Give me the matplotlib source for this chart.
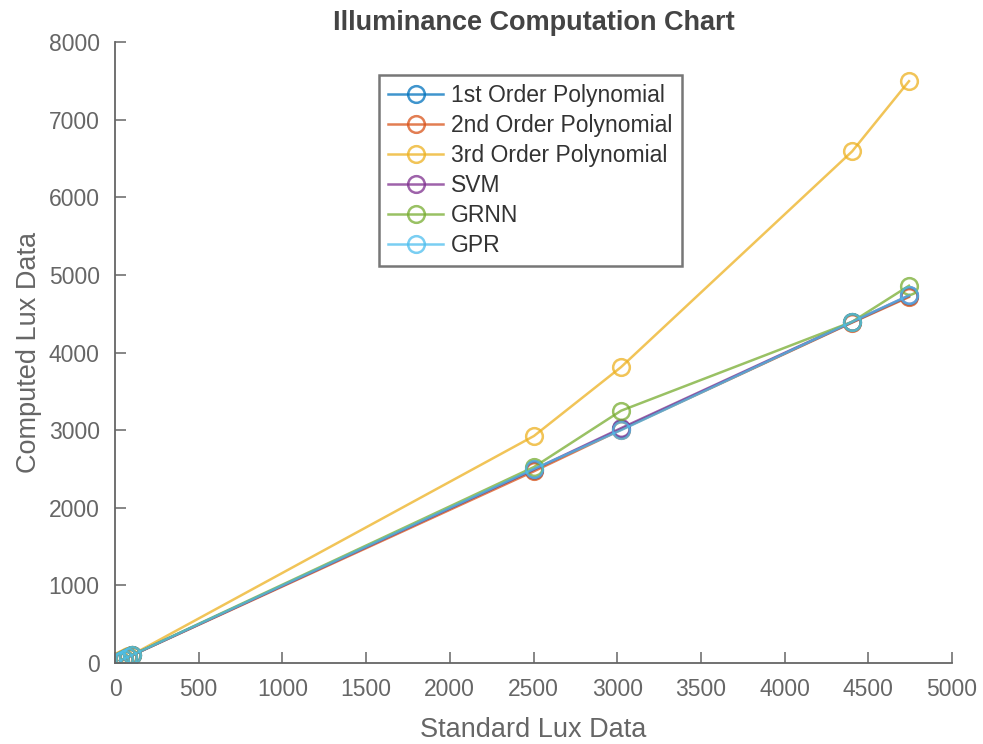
import matplotlib
matplotlib.use('Agg')
import matplotlib.pyplot as plt

plt.rcParams['font.family'] = ['Liberation Sans', 'DejaVu Sans']

standard_lux = [30, 55, 80, 100, 2503, 3023, 4403, 4743]

poly1 = [28, 54, 79, 98, 2490, 3010, 4390, 4725]
poly2 = [26, 52, 78, 97, 2470, 3005, 4385, 4715]
poly3 = [33, 58, 84, 104, 2925, 3812, 6590, 7495]
svm = [29, 55, 80, 99, 2495, 3025, 4395, 4735]
grnn = [32, 57, 82, 101, 2525, 3250, 4395, 4860]
gpr = [30, 56, 81, 100, 2500, 3000, 4395, 4735]

series = [
    ('1st Order Polynomial', poly1, '#0072bd'),
    ('2nd Order Polynomial', poly2, '#d95319'),
    ('3rd Order Polynomial', poly3, '#edb120'),
    ('SVM', svm, '#7e2f8e'),
    ('GRNN', grnn, '#77ac30'),
    ('GPR', gpr, '#4dbeee'),
]

fig = plt.figure(figsize=(9.83, 7.44), dpi=100)
ax = fig.add_axes([115/983, 1-663/744, (952-115)/983, (663-42)/744])

for name, vals, col in series:
    ax.plot(standard_lux, vals, '-o', color=col, label=name, lw=1.8,
            markersize=12, markerfacecolor='none', markeredgewidth=1.8, alpha=0.75)

grey = '#666666'
ax.set_xlim(0, 5000)
ax.set_ylim(0, 8000)
ax.set_xticks(range(0, 5001, 500))
ax.set_yticks(range(0, 8001, 1000))
for s in ['top', 'right']:
    ax.spines[s].set_visible(False)
for s in ['left', 'bottom']:
    ax.spines[s].set_color(grey)
    ax.spines[s].set_linewidth(1.3)
ax.tick_params(colors=grey, labelsize=16.5, direction='in', length=8, width=1.1, pad=11)
ax.set_xlabel('Standard Lux Data', fontsize=19.5, color=grey, labelpad=11)
ax.set_ylabel('Computed Lux Data', fontsize=19.5, color=grey, labelpad=5)
ax.set_title('Illuminance Computation Chart', fontsize=19.5, fontweight='bold',
             color='#444444', pad=9)

leg = ax.legend(loc='upper left', bbox_to_anchor=((379-115)/837, 1-(75-42)/621),
                borderaxespad=0, fontsize=16.5, frameon=True, fancybox=False,
                handlelength=2.4, handletextpad=0.35, labelspacing=0.3,
                borderpad=0.4)
leg.get_frame().set_edgecolor('#555555')
leg.get_frame().set_linewidth(1.8)
for t in leg.get_texts():
    t.set_color('#333333')

fig.savefig('out.png', dpi=100)
